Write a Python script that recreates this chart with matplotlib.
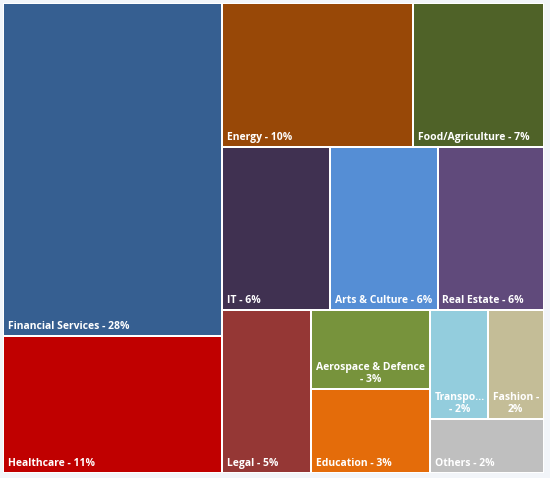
import matplotlib
matplotlib.use("Agg")
import matplotlib.pyplot as plt
from matplotlib.patches import Rectangle

# ---- data ----
names = ["Financial Services", "Healthcare", "Energy", "Food/Agriculture", "IT",
         "Arts & Culture", "Real Estate", "Legal", "Aerospace & Defence", "Education",
         "Transportation", "Fashion", "Others"]
values = [28.7, 11.8, 10.8, 7.4, 6.9, 6.9, 6.8, 5.7, 3.7, 3.9, 2.5, 2.4, 2.4]
labels = ["Financial Services - 28%", "Healthcare - 11%", "Energy - 10%",
          "Food/Agriculture - 7%", "IT - 6%", "Arts & Culture - 6%", "Real Estate - 6%",
          "Legal - 5%", "Aerospace & Defence\n- 3%", "Education - 3%",
          "Transpo...\n- 2%", "Fashion -\n2%", "Others - 2%"]
colors = ["#365f91", "#c00000", "#984807", "#4f6228", "#403151", "#558ed5", "#604a7b",
          "#953735", "#77933c", "#e46c0a", "#93cddd", "#c4bd97", "#bfbfbf"]

# nested arrangement: 'h' = side by side, 'v' = stacked
layout = ('h', [('v', [0, 1]),
                ('v', [('h', [2, 3]),
                       ('h', [4, 5, 6]),
                       ('h', [7, ('v', [8, 9]), ('v', [('h', [10, 11]), 12])])])])


def total(node):
    if isinstance(node, int):
        return values[node]
    return sum(total(c) for c in node[1])


rects = {}


def place(node, x, y, w, h):
    if isinstance(node, int):
        rects[node] = (x, y, w, h)
        return
    d, children = node
    s = total(node)
    off = 0.0
    for c in children:
        f = total(c) / s
        if d == 'h':
            place(c, x + off, y, w * f, h)
            off += w * f
        else:
            place(c, x, y + off, w, h * f)
            off += h * f


W, H = 550, 478
X0, Y0, X1, Y1 = 3, 3, 544, 473
place(layout, X0, Y0, X1 - X0, Y1 - Y0)

fig = plt.figure(figsize=(W / 100, H / 100), dpi=100)
fig.patch.set_facecolor("#f2f5f9")
ax = fig.add_axes([0, 0, 1, 1])
ax.set_xlim(0, W)
ax.set_ylim(H, 0)
ax.axis("off")

ax.add_patch(Rectangle((X0, Y0), X1 - X0, Y1 - Y0, facecolor="white", edgecolor="none"))
g = 1.0
for i, (x, y, w, h) in rects.items():
    ax.add_patch(Rectangle((x + g, y + g), w - 2 * g, h - 2 * g,
                           facecolor=colors[i], edgecolor="none"))
    ax.text(x + g + 3.5, y + h - g - 3, labels[i], color="white", fontsize=7.5,
            fontweight="bold", family="Open Sans", ha="left", va="bottom",
            multialignment="center", linespacing=1.2)

fig.savefig("out.png", dpi=100, facecolor=fig.get_facecolor())
